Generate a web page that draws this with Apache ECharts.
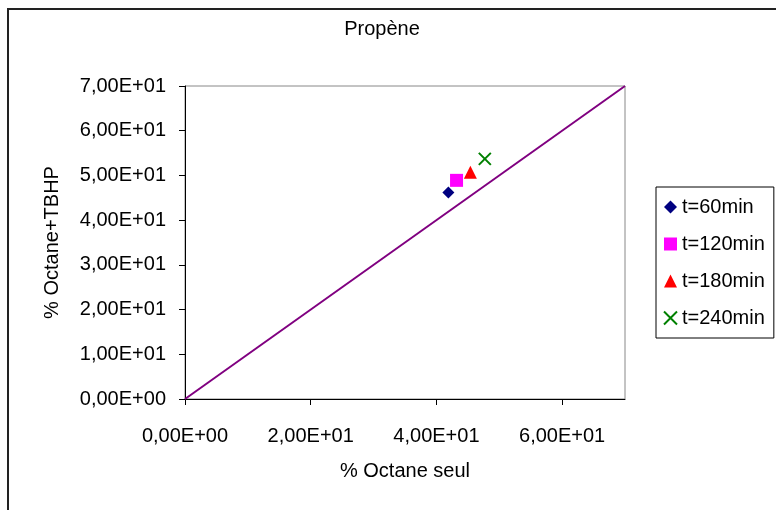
<!DOCTYPE html>
<html>
<head>
<meta charset="utf-8">
<script src="https://cdn.jsdelivr.net/npm/echarts@6/dist/echarts.min.js"></script>
<style>html,body{margin:0;padding:0;background:#fff}#c{width:776px;height:510px}</style>
</head>
<body>
<div id="c"></div>
<script>
const titleText = 'Propène';
const xName = '% Octane seul';
const yName = '% Octane+TBHP';
const seriesNames = ['t=60min', 't=120min', 't=180min', 't=240min'];
const octaneSeul = [41.9, 43.2, 45.4, 47.7];
const octaneTBHP = [46.2, 48.9, 50.7, 53.7];
const refLineX = [0, 70];
const refLineY = [0, 70];
const xTickValues = [0, 20, 40, 60];
const xTickLabels = ['0,00E+00', '2,00E+01', '4,00E+01', '6,00E+01'];
const yTickValues = [0, 10, 20, 30, 40, 50, 60, 70];
const yTickLabels = ['0,00E+00', '1,00E+01', '2,00E+01', '3,00E+01', '4,00E+01', '5,00E+01', '6,00E+01', '7,00E+01'];

const FONT = 'Liberation Sans, Arial, sans-serif';
const FS = 20;
const markers = [
  { symbol: 'diamond', size: 12, color: '#000080' },
  { symbol: 'rect', size: 13, color: '#FF00FF' },
  { symbol: 'triangle', size: 13, color: '#FF0000' },
  { symbol: 'path://M0,0L10,10M10,0L0,10', size: 12, color: '#008000', cross: true }
];

const chart = echarts.init(document.getElementById('c'), null, { renderer: 'canvas' });

const scatterSeries = seriesNames.map((name, i) => {
  const m = markers[i];
  return {
    name: name,
    type: 'scatter',
    symbol: m.symbol,
    symbolSize: m.size,
    data: [[octaneSeul[i], octaneTBHP[i]]],
    itemStyle: m.cross
      ? { color: m.color, borderColor: m.color, borderWidth: 2, opacity: 1 }
      : { color: m.color, opacity: 1 },
    emphasis: { disabled: true },
    z: 3
  };
});

const option = {
  backgroundColor: '#fff',
  animation: false,
  textStyle: { fontFamily: FONT },
  title: {
    text: titleText,
    left: 377,
    top: 14,
    textAlign: 'center',
    textStyle: { fontFamily: FONT, fontSize: FS, fontWeight: 'normal', color: '#000' }
  },
  graphic: [{
    type: 'rect',
    shape: { x: 8, y: 9, width: 900, height: 700 },
    style: { fill: 'none', stroke: '#222', lineWidth: 2 },
    silent: true,
    z: 100
  }],
  legend: {
    orient: 'vertical',
    left: 656,
    top: 187,
    data: seriesNames,
    borderColor: '#000',
    borderWidth: 1,
    padding: [10, 9, 10, 7],
    itemGap: 17,
    itemWidth: 13,
    itemHeight: 13,
    itemStyle: { opacity: 1 },
    textStyle: { fontFamily: FONT, fontSize: FS, color: '#000', lineHeight: 20 }
  },
  grid: {
    left: 185, top: 86, width: 440, height: 313,
    show: true, borderColor: '#888', borderWidth: 1
  },
  xAxis: {
    type: 'value',
    min: 0, max: 70,
    name: xName,
    nameLocation: 'middle',
    nameGap: 62,
    nameTextStyle: { fontFamily: FONT, fontSize: FS, color: '#000' },
    splitLine: { show: false },
    axisLine: { show: true, lineStyle: { color: '#000', width: 1 } },
    axisTick: { show: true, length: 6, lineStyle: { color: '#000' }, customValues: xTickValues },
    axisLabel: {
      customValues: xTickValues,
      margin: 27,
      fontFamily: FONT, fontSize: FS, color: '#000',
      formatter: v => { const k = xTickValues.indexOf(v); return k >= 0 ? xTickLabels[k] : ''; }
    }
  },
  yAxis: {
    type: 'value',
    min: 0, max: 70, interval: 10,
    name: yName,
    nameLocation: 'middle',
    nameGap: 123,
    nameTextStyle: { fontFamily: FONT, fontSize: FS, color: '#000' },
    splitLine: { show: false },
    axisLine: { show: true, lineStyle: { color: '#000', width: 1 } },
    axisTick: { show: true, length: 6, lineStyle: { color: '#000' } },
    axisLabel: {
      margin: 19,
      fontFamily: FONT, fontSize: FS, color: '#000',
      formatter: v => { const k = yTickValues.indexOf(v); return k >= 0 ? yTickLabels[k] : ''; }
    }
  },
  series: [
    {
      name: 'y=x',
      type: 'line',
      data: refLineX.map((x, i) => [x, refLineY[i]]),
      showSymbol: false,
      symbol: 'none',
      lineStyle: { color: '#800080', width: 2 },
      emphasis: { disabled: true },
      z: 2
    }
  ].concat(scatterSeries)
};

chart.setOption(option);
</script>
</body>
</html>
